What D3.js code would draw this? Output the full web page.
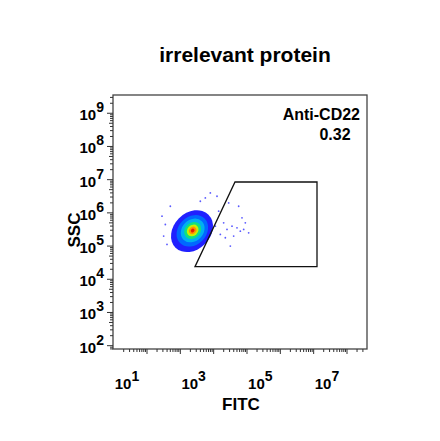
<!DOCTYPE html>
<html><head><meta charset="utf-8">
<script src="https://cdn.jsdelivr.net/npm/d3@7"></script>
<style>body{margin:0;background:#fff}text{font-family:"Liberation Sans",Arial,sans-serif;font-weight:bold}</style>
</head><body><svg id="c" width="440" height="441"></svg>
<script>
// log10 values
const xDecades = [1, 3, 5, 7];
const yDecades = [2, 3, 4, 5, 6, 7, 8, 9];
const gate = [[3.64, 6.93], [6.1, 6.93], [6.1, 4.38], [2.44, 4.38]];
const gateName = "Anti-CD22";
const gateValue = "0.32";
// density contours of the main population: [log x, log y, rx, ry (decades), colour]
const rings = [
  [2.35, 5.45, 0.70, 0.55, "#2020ff"],
  [2.36, 5.46, 0.52, 0.42, "#0068ff"],
  [2.37, 5.47, 0.39, 0.32, "#00b0f0"],
  [2.37, 5.47, 0.28, 0.23, "#10e080"],
  [2.37, 5.47, 0.19, 0.16, "#c8f000"],
  [2.37, 5.47, 0.12, 0.10, "#ff9000"],
  [2.37, 5.47, 0.06, 0.05, "#e02000"]
];
// sparse events
const strayX = [3.15, 3.3, 3.4, 3.55, 3.7, 3.6, 3.8, 3.9, 3.95, 4.05, 3.35, 3.5, 3.05, 3.75, 3.45, 1.5, 1.45, 1.7, 3.1, 2.9, 3.2, 3.85, 1.6, 1.55, 2.6, 2.75];
const strayY = [6.05, 5.7, 5.5, 5.6, 5.55, 5.3, 5.45, 5.5, 5.7, 5.4, 5.25, 5.0, 5.6, 6.2, 6.3, 5.3, 5.9, 6.2, 6.5, 6.6, 5.35, 5.85, 5.05, 5.65, 6.35, 6.45];

const svg = d3.select("#c");
const L = 113, R = 367, T = 95, B = 349;
const x = d3.scaleLinear().domain([-0.02, 7.6]).range([L, R]);
const y = d3.scaleLinear().domain([1.9, 9.55]).range([B, T]);

svg.append("text").attr("x", 245).attr("y", 62).attr("text-anchor", "middle")
  .attr("font-size", 21).text("irrelevant protein");

svg.append("rect").attr("x", L).attr("y", T).attr("width", R - L).attr("height", B - T)
  .attr("fill", "none").attr("stroke", "#444").attr("stroke-width", 1.3);

// log ticks
const minors = [];
for (let d = 1; d <= 9; d++) for (let k = 1; k <= 9; k++) minors.push(d + Math.log10(k));
const isMajor = v => Math.abs(v - Math.round(v)) < 1e-6;
svg.append("g").selectAll("line").data(minors.filter(v => v >= 1.9 && v <= 9.55)).join("line")
  .attr("x1", L).attr("x2", v => L - (isMajor(v) ? 6 : (Math.abs(v % 1 - 0.699) < 0.01 ? 4 : 3)))
  .attr("y1", v => y(v)).attr("y2", v => y(v)).attr("stroke", "#333");
const xm = [];
for (let d = 0; d <= 7; d++) for (let k = 1; k <= 9; k++) xm.push(d + Math.log10(k));
svg.append("g").selectAll("line").data(xm.filter(v => v > 0 && v <= 7.6)).join("line")
  .attr("y1", B).attr("y2", v => B + (isMajor(v) ? 5 : 3))
  .attr("x1", v => x(v)).attr("x2", v => x(v)).attr("stroke", "#333");

function expLabel(g, px, py, e, anchor) {
  const t = g.append("text").attr("x", px).attr("y", py).attr("font-size", 15).attr("text-anchor", anchor);
  t.append("tspan").text("10");
  t.append("tspan").attr("dy", -8).attr("font-size", 14).text(e);
}
const yl = svg.append("g");
yDecades.forEach(e => expLabel(yl, 104, y(e) + 7, e, "end"));
const xl = svg.append("g");
xDecades.forEach(e => expLabel(xl, x(e) - 20, 389, e, "middle"));

svg.append("text").attr("transform", "translate(80,230) rotate(-90)").attr("text-anchor", "middle")
  .attr("font-size", 17).text("SSC");
svg.append("text").attr("x", 241).attr("y", 410).attr("text-anchor", "middle")
  .attr("font-size", 17).text("FITC");

// population
const pop = svg.append("g");
pop.selectAll("circle").data(strayX.map((v, i) => [v, strayY[i]])).join("circle")
  .attr("cx", d => x(d[0])).attr("cy", d => y(d[1])).attr("r", 0.9).attr("fill", "#5a5aff");
pop.selectAll("ellipse").data(rings).join("ellipse")
  .attr("transform", d => `translate(${x(d[0])},${y(d[1])}) rotate(-45)`)
  .attr("rx", d => x(d[2]) - x(0)).attr("ry", d => x(d[3]) - x(0)).attr("fill", d => d[4]);

svg.append("polygon").attr("points", gate.map(p => [x(p[0]), y(p[1])].join(",")).join(" "))
  .attr("fill", "none").attr("stroke", "#111").attr("stroke-width", 1.3);

svg.append("text").attr("x", 360).attr("y", 120).attr("text-anchor", "end").attr("font-size", 16).text(gateName);
svg.append("text").attr("x", 335).attr("y", 140).attr("text-anchor", "middle").attr("font-size", 16).text(gateValue);
</script></body></html>
